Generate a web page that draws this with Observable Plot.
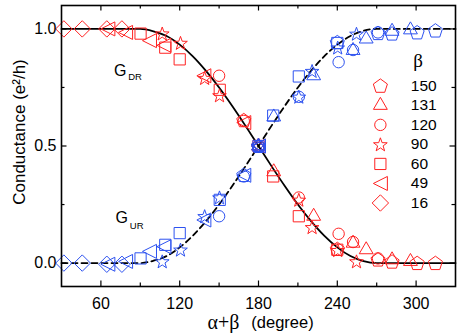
<!DOCTYPE html>
<html>
<head>
<meta charset="utf-8">
<script src="https://cdn.jsdelivr.net/npm/d3@7"></script>
<script src="https://cdn.jsdelivr.net/npm/@observablehq/plot@0.6"></script>
<style>
  html, body { margin: 0; padding: 0; background: #fff; }
</style>
</head>
<body>
<div id="chart"></div>
<script>
// ---------- data ----------
const betas = [150, 131, 120, 90, 60, 49, 16];

const x150 = [168.8, 180, 240, 271, 281.7, 300.8, 314.7];
const gdr150 = [0.61, 0.50, 0.06, 0.015, 0.006, 0.0, 0.0];
const gur150 = [0.376, 0.50, 0.943, 0.982, 0.98, 0.985, 0.993];

const x131 = [180, 191.6, 222, 252, 262, 281.7, 295.7];
const gdr131 = [0.50, 0.39, 0.20, 0.085, 0.057, 0.014, 0.007];
const gur131 = [0.50, 0.624, 0.80, 0.908, 0.957, 0.99, 0.996];

const x120 = [150, 168.8, 180, 210.7, 241, 252, 271];
const gdr120 = [0.80, 0.607, 0.50, 0.28, 0.125, 0.09, 0.02];
const gur120 = [0.20, 0.37, 0.50, 0.71, 0.858, 0.91, 0.985];

const x90 = [106.7, 120.6, 139, 150.3, 180, 210.7, 220.8, 240.3, 254.6];
const gdr90 = [0.98, 0.94, 0.79, 0.716, 0.50, 0.27, 0.153, 0.055, 0.007];
const gur90 = [0.007, 0.057, 0.20, 0.28, 0.50, 0.71, 0.82, 0.92, 0.979];

const x60 = [90.2, 109, 120, 150.5, 180, 191.2, 210.7, 240];
const gdr60 = [0.98, 0.92, 0.87, 0.74, 0.50, 0.37, 0.20, 0.057];
const gur60 = [0.02, 0.078, 0.128, 0.27, 0.50, 0.63, 0.797, 0.94];

const x49 = [65.3, 78.8, 97, 108, 138.4, 168.8, 180];
const gdr49 = [1.0, 0.985, 0.95, 0.93, 0.80, 0.60, 0.50];
const gur49 = [-0.005, 0.007, 0.05, 0.07, 0.184, 0.375, 0.50];

const x16 = [31.8, 45.8, 64.5, 76];
const gdr16 = [1, 1, 1, 1];
const gur16 = [0, 0, -0.005, -0.005];

// theory curves
const curveX   = [30, 90, 100, 110, 120, 130, 140, 150, 160, 170, 180, 190, 200, 210, 220, 230, 240, 250, 260, 270, 330];
const curveGDR = [1, 1, 0.99, 0.97, 0.933, 0.883, 0.821, 0.75, 0.671, 0.587, 0.5, 0.413, 0.329, 0.25, 0.179, 0.117, 0.067, 0.03, 0.008, 0, 0];
const curveGUR = [0, 0, 0.01, 0.03, 0.067, 0.117, 0.179, 0.25, 0.329, 0.413, 0.5, 0.587, 0.671, 0.75, 0.821, 0.883, 0.933, 0.97, 0.992, 1, 1];

// tick labels
const xMajor = [60, 120, 180, 240, 300];
const xMinor = [90, 150, 210, 270];
const yMajor = [0, 0.5, 1.0];
const yMinor = [0.25, 0.75];

// ---------- styling ----------
const RED = "#ff2222";
const BLUE = "#2d52f0";
const W = 463, H = 333;
const mL = 61, mR = 8, mT = 5, mB = 47;
const innerW = W - mL - mR, innerH = H - mT - mB;

// ---------- custom symbols ----------
function poly(ctx, pts) {
  ctx.moveTo(pts[0][0], pts[0][1]);
  for (let i = 1; i < pts.length; i++) ctx.lineTo(pts[i][0], pts[i][1]);
  ctx.closePath();
}
const sc = (size) => Math.sqrt(size / Math.PI) / 7;
const symbols = {
  150: { draw(ctx, size) { const s = sc(size), R = 7.4 * s, pts = [];
      for (let k = 0; k < 5; k++) { const a = -Math.PI / 2 + k * 2 * Math.PI / 5; pts.push([R * Math.cos(a), R * Math.sin(a) + 0.5 * s]); }
      poly(ctx, pts); } },
  131: { draw(ctx, size) { const s = sc(size), R = 8 * s;
      poly(ctx, [[0, -R], [0.866 * R, 0.5 * R], [-0.866 * R, 0.5 * R]]); } },
  120: { draw(ctx, size) { const s = sc(size), r = 5.7 * s;
      ctx.moveTo(r, 0); ctx.arc(0, 0, r, 0, 2 * Math.PI); } },
  90: { draw(ctx, size) { const s = sc(size), R = 7.2 * s, r = 2.9 * s, pts = [];
      for (let k = 0; k < 10; k++) { const a = -Math.PI / 2 + k * Math.PI / 5, rr = k % 2 ? r : R; pts.push([rr * Math.cos(a), rr * Math.sin(a) + 0.6 * s]); }
      poly(ctx, pts); } },
  60: { draw(ctx, size) { const s = sc(size), h = 5.6 * s;
      poly(ctx, [[-h, -h], [h, -h], [h, h], [-h, h]]); } },
  49: { draw(ctx, size) { const s = sc(size), h = 7 * s;
      poly(ctx, [[-h, 0], [h, -h], [h, h]]); } },
  16: { draw(ctx, size) { const s = sc(size), h = 8.2 * s;
      poly(ctx, [[0, -h], [h, 0], [0, h], [-h, 0]]); } }
};

const seriesX = {150: x150, 131: x131, 120: x120, 90: x90, 60: x60, 49: x49, 16: x16};
const seriesDR = {150: gdr150, 131: gdr131, 120: gdr120, 90: gdr90, 60: gdr60, 49: gdr49, 16: gdr16};
const seriesUR = {150: gur150, 131: gur131, 120: gur120, 90: gur90, 60: gur60, 49: gur49, 16: gur16};

const dotsFor = (ys, color) => betas.map(b =>
  Plot.dot(seriesX[b].map((x, i) => ({x, y: ys[b][i]})), {
    x: "x", y: "y", r: 7, symbol: symbols[b], stroke: color, fill: "none", strokeWidth: 1
  }));

const curveDR = curveX.map((x, i) => ({x, y: curveGDR[i]}));
const curveUR = curveX.map((x, i) => ({x, y: curveGUR[i]}));

// legend rows (inside the frame)
const legendX = 272.8, legendTextX = 296.0, legendTop = 0.757, legendStep = 0.0834;
const legendRows = betas.map((b, i) => ({b, y: legendTop - i * legendStep}));

const FONT = "'Liberation Sans', Arial, Helvetica, sans-serif";
const SERIF = "'Liberation Serif', 'Times New Roman', serif";

const chart = Plot.plot({
  width: W, height: H,
  marginLeft: mL, marginRight: mR, marginTop: mT, marginBottom: mB,
  style: { fontFamily: FONT, background: "#fff", color: "#000" },
  x: { domain: [30, 330] },
  y: { domain: [-0.1, 1.1] },
  marks: [
    // theory curves
    Plot.line(curveDR, { x: "x", y: "y", curve: "monotone-x", stroke: "#000", strokeWidth: 1.8 }),
    Plot.line(curveUR, { x: "x", y: "y", curve: "monotone-x", stroke: "#000", strokeWidth: 1.8, strokeDasharray: "6,4" }),
    // data
    ...dotsFor(seriesDR, RED),
    ...dotsFor(seriesUR, BLUE),
    // legend
    ...legendRows.map(d => Plot.dot([d], { x: () => legendX, y: "y", r: 7, symbol: symbols[d.b], stroke: RED, fill: "none", strokeWidth: 1 })),
    Plot.text(legendRows, { x: () => legendTextX, y: "y", text: d => String(d.b), textAnchor: "start", fontSize: 15.5, fill: "#000" }),
    Plot.text(["β"], { x: () => 301.5, y: () => 0.862, text: d => d, fontSize: 19, fontFamily: SERIF, fill: "#000" }),
    // G labels
    Plot.text(["G"], { x: () => 69.9, y: () => 0.82, text: d => d, textAnchor: "start", fontSize: 16, fill: "#000" }),
    Plot.text(["DR"], { x: () => 80.8, y: () => 0.793, text: d => d, textAnchor: "start", fontSize: 9.5, fill: "#000" }),
    Plot.text(["G"], { x: () => 71.2, y: () => 0.193, text: d => d, textAnchor: "start", fontSize: 16, fill: "#000" }),
    Plot.text(["UR"], { x: () => 82.0, y: () => 0.159, text: d => d, textAnchor: "start", fontSize: 9.5, fill: "#000" }),
    // frame & inward ticks
    Plot.frame({ stroke: "#000", strokeWidth: 1.6 }),
    Plot.tickX(xMajor, { x: d => d, insetTop: innerH - 5.5, stroke: "#000", strokeWidth: 1.2 }),
    Plot.tickX(xMajor, { x: d => d, insetBottom: innerH - 5.5, stroke: "#000", strokeWidth: 1.2 }),
    Plot.tickX(xMinor, { x: d => d, insetTop: innerH - 3.5, stroke: "#000", strokeWidth: 1.2 }),
    Plot.tickX(xMinor, { x: d => d, insetBottom: innerH - 3.5, stroke: "#000", strokeWidth: 1.2 }),
    Plot.tickY(yMajor, { y: d => d, insetRight: innerW - 5.5, stroke: "#000", strokeWidth: 1.2 }),
    Plot.tickY(yMajor, { y: d => d, insetLeft: innerW - 5.5, stroke: "#000", strokeWidth: 1.2 }),
    Plot.tickY(yMinor, { y: d => d, insetRight: innerW - 3.5, stroke: "#000", strokeWidth: 1.2 }),
    Plot.tickY(yMinor, { y: d => d, insetLeft: innerW - 3.5, stroke: "#000", strokeWidth: 1.2 }),
    // axis labels
    Plot.axisX(xMajor, { tickSize: 0, tickPadding: 11, fontSize: 16, label: null, tickFormat: d => String(d) }),
    Plot.axisY(yMajor, { tickSize: 0, tickPadding: 5, fontSize: 16, label: null, tickFormat: d3.format(".1f") }),
    Plot.text(["Conductance (e²/h)"], { frameAnchor: "left", textAnchor: "middle", lineAnchor: "middle", dx: -42, dy: -14, rotate: -90, fontSize: 17, fill: "#000" }),
    Plot.text(["α+β"], { frameAnchor: "bottom", textAnchor: "middle", lineAnchor: "middle", dx: -35, dy: 36, fontSize: 20, fontFamily: SERIF, fill: "#000" }),
    Plot.text(["(degree)"], { frameAnchor: "bottom", textAnchor: "middle", lineAnchor: "middle", dx: 24, dy: 36, fontSize: 16.5, fill: "#000" })
  ]
});

document.getElementById("chart").appendChild(chart);
</script>
</body>
</html>
